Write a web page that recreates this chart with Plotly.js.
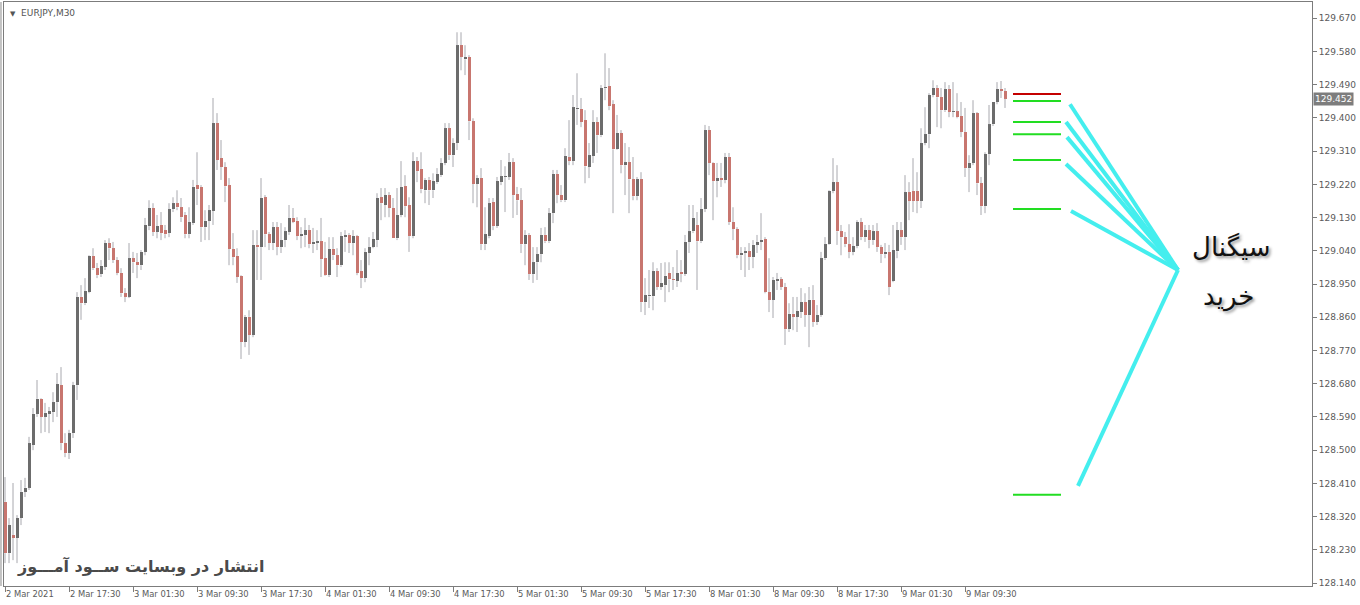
<!DOCTYPE html>
<html><head><meta charset="utf-8">
<script src="https://cdn.plot.ly/plotly-3.0.1.min.js"></script>
<style>html,body{margin:0;padding:0;background:#fff}#chart{width:1360px;height:605px}</style>
</head><body><div id="chart"></div>
<script>
const symbolLabel = 'EURJPY,M30';
const timeLabelIndex = [0,16,32,48,64,80,96,112,128,144,160,176,192,208,224,240];
const timeLabels = ['2 Mar 2021','2 Mar 17:30','3 Mar 01:30','3 Mar 09:30','3 Mar 17:30','4 Mar 01:30','4 Mar 09:30','4 Mar 17:30','5 Mar 01:30','5 Mar 09:30','5 Mar 17:30','8 Mar 01:30','8 Mar 09:30','8 Mar 17:30','9 Mar 01:30','9 Mar 09:30'];
const yTicks = [128.14,128.23,128.32,128.41,128.50,128.59,128.68,128.77,128.86,128.95,129.04,129.13,129.22,129.31,129.40,129.49,129.58,129.67];

const opens = [128.360,128.221,128.270,128.262,128.316,128.387,128.398,128.514,128.598,128.639,128.590,128.598,128.603,128.630,128.676,128.519,128.492,128.546,128.676,128.915,
128.898,128.928,129.026,128.993,128.977,128.996,129.061,129.047,129.015,128.980,128.925,128.915,129.020,129.009,129.001,129.037,129.107,129.156,129.091,129.110,
129.096,129.088,129.153,129.169,129.158,129.137,129.085,129.115,129.218,129.213,129.104,129.121,129.148,129.386,129.291,129.267,129.218,129.045,129.026,128.972,
128.793,128.861,128.812,129.056,129.050,129.185,129.085,129.061,129.104,129.050,129.069,129.091,129.129,129.121,129.080,129.083,129.096,129.058,129.061,129.066,
129.020,128.974,129.045,129.028,129.001,129.077,129.083,129.061,129.080,128.985,128.966,129.034,129.050,129.069,129.185,129.164,129.191,129.156,129.074,129.137,
129.215,129.164,129.080,129.283,129.261,129.204,129.232,129.204,129.226,129.245,129.278,129.372,129.299,129.332,129.597,129.559,129.565,129.391,129.221,129.237,
129.058,129.080,129.172,129.107,129.226,129.240,129.240,129.280,129.194,129.177,129.058,129.083,128.977,129.009,129.031,129.083,129.066,129.142,129.248,129.191,
129.177,129.294,129.283,129.424,129.424,129.394,129.267,129.297,129.389,129.353,129.481,129.486,129.437,129.315,129.359,129.272,129.280,129.234,129.188,129.234,
128.901,128.917,128.917,128.985,128.942,128.947,128.980,128.963,128.958,128.982,128.977,129.064,129.093,129.110,129.066,129.153,129.367,129.278,129.229,129.237,
129.232,129.294,129.118,129.099,129.028,129.034,129.039,129.023,129.056,129.064,129.072,128.928,128.907,128.958,128.963,128.942,128.828,128.869,128.861,128.874,
128.901,128.866,128.907,128.847,128.866,129.020,129.058,129.202,129.226,129.093,129.077,129.058,129.037,129.053,129.118,129.077,129.096,129.069,129.093,129.050,
129.031,129.037,128.958,129.039,129.096,129.077,129.199,129.202,129.202,129.175,129.332,129.356,129.462,129.481,129.456,129.421,129.478,129.416,129.418,129.405,
129.362,129.264,129.278,129.413,129.223,129.161,129.302,129.383,129.443,129.478,129.473];
const highs = [128.427,128.316,128.411,128.324,128.419,128.425,128.536,128.614,128.690,128.641,128.628,128.617,128.657,128.709,128.725,128.546,128.555,128.685,128.928,128.947,
128.966,129.028,129.047,129.007,129.015,129.069,129.074,129.064,129.023,128.993,128.939,129.061,129.037,129.034,129.042,129.129,129.177,129.169,129.137,129.145,
129.110,129.169,129.185,129.204,129.183,129.145,129.158,129.232,129.307,129.218,129.150,129.164,129.454,129.413,129.340,129.280,129.237,129.088,129.047,128.974,
128.866,128.879,129.096,129.096,129.237,129.191,129.091,129.118,129.118,129.115,129.104,129.164,129.156,129.131,129.104,129.129,129.110,129.102,129.096,129.129,
129.064,129.077,129.077,129.047,129.091,129.096,129.088,129.096,129.083,129.015,129.047,129.077,129.091,129.196,129.210,129.210,129.199,129.183,129.210,129.283,
129.245,129.185,129.307,129.294,129.307,129.237,129.240,129.250,129.264,129.291,129.386,129.386,129.345,129.632,129.632,129.597,129.570,129.399,129.245,129.264,
129.158,129.183,129.183,129.240,129.286,129.269,129.305,129.291,129.213,129.210,129.096,129.088,129.050,129.050,129.102,129.104,129.156,129.259,129.259,129.218,
129.318,129.394,129.462,129.521,129.454,129.421,129.332,129.421,129.402,129.489,129.575,129.535,129.448,129.408,129.367,129.332,129.321,129.294,129.240,129.253,
128.966,128.988,129.009,128.993,129.007,129.009,129.009,128.996,129.042,129.015,129.083,129.164,129.164,129.145,129.183,129.381,129.378,129.280,129.278,129.278,
129.305,129.305,129.158,129.104,129.050,129.050,129.061,129.069,129.083,129.142,129.077,129.020,128.969,128.980,128.969,128.953,128.898,128.915,128.915,128.939,
128.925,128.942,128.947,128.893,129.037,129.077,129.204,129.291,129.272,129.110,129.091,129.112,129.077,129.123,129.129,129.110,129.110,129.110,129.115,129.056,
129.061,129.056,129.110,129.118,129.118,129.245,129.226,129.291,129.253,129.372,129.429,129.467,129.502,129.489,129.481,129.497,129.489,129.497,129.467,129.443,
129.427,129.299,129.448,129.416,129.240,129.307,129.435,129.443,129.497,129.500,129.481];
const lows = [128.194,128.194,128.202,128.194,128.297,128.373,128.392,128.500,128.590,128.546,128.549,128.546,128.576,128.590,128.500,128.481,128.476,128.533,128.636,128.853,
128.893,128.925,128.988,128.966,128.969,128.988,129.015,129.007,128.974,128.915,128.901,128.912,128.980,128.966,128.988,129.028,129.096,129.080,129.074,129.069,
129.074,129.077,129.145,129.150,129.118,129.074,129.074,129.110,129.164,129.064,129.069,129.069,129.110,129.259,129.232,129.172,129.001,129.001,128.953,128.747,
128.779,128.758,128.806,128.961,128.961,129.050,129.042,129.042,129.028,129.034,129.050,129.083,129.115,129.069,129.047,129.050,129.047,129.034,129.042,128.969,
128.972,128.969,129.015,128.969,128.996,129.037,129.034,129.028,128.974,128.939,128.955,129.001,129.047,129.050,129.123,129.131,129.131,129.074,129.069,129.131,
129.131,129.037,129.074,129.226,129.196,129.169,129.164,129.183,129.221,129.240,129.272,129.286,129.267,129.313,129.529,129.516,129.340,129.169,129.158,129.042,
129.042,129.074,129.096,129.102,129.218,129.145,129.232,129.129,129.137,129.034,129.001,128.961,128.953,128.961,129.009,129.061,129.061,129.115,129.169,129.172,
129.172,129.272,129.272,129.381,129.375,129.223,129.237,129.278,129.305,129.348,129.448,129.421,129.142,129.313,129.250,129.191,129.142,129.177,129.177,128.874,
128.866,128.885,128.879,128.934,128.934,128.901,128.928,128.934,128.942,128.955,128.972,129.034,129.088,128.934,129.061,129.145,129.245,129.123,129.185,129.213,
129.223,129.110,129.069,129.020,128.988,128.969,128.988,128.993,129.034,129.042,128.925,128.874,128.858,128.934,128.934,128.785,128.820,128.825,128.820,128.858,
128.834,128.779,128.834,128.839,128.861,129.015,129.056,129.196,129.056,129.028,129.050,129.020,129.028,129.047,129.069,129.064,129.047,129.056,129.037,129.007,
129.020,128.920,128.955,129.020,129.056,129.042,129.123,129.145,129.142,129.156,129.326,129.318,129.456,129.375,129.372,129.416,129.402,129.402,129.399,129.348,
129.240,129.199,129.272,129.191,129.137,129.142,129.272,129.378,129.437,129.454,129.427];
const closes = [128.221,128.297,128.262,128.316,128.387,128.398,128.519,128.598,128.639,128.590,128.601,128.606,128.630,128.679,128.519,128.492,128.546,128.676,128.915,128.898,
128.931,129.026,128.993,128.974,128.999,129.061,129.047,129.015,128.980,128.925,128.915,129.020,129.009,129.001,129.037,129.110,129.156,129.091,129.107,129.088,
129.085,129.153,129.169,129.158,129.131,129.085,129.118,129.213,129.207,129.104,129.121,129.150,129.386,129.286,129.267,129.215,129.045,129.023,128.969,128.793,
128.861,128.812,129.056,129.050,129.183,129.085,129.061,129.104,129.050,129.069,129.093,129.129,129.118,129.080,129.085,129.096,129.058,129.064,129.066,129.018,
128.974,129.045,129.028,129.001,129.080,129.083,129.061,129.080,128.980,128.966,129.037,129.050,129.072,129.183,129.169,129.191,129.156,129.074,129.137,129.213,
129.161,129.080,129.283,129.256,129.207,129.232,129.204,129.229,129.248,129.278,129.372,129.299,129.332,129.597,129.565,129.565,129.391,129.221,129.237,129.058,
129.085,129.169,129.107,129.229,129.242,129.242,129.280,129.191,129.177,129.058,129.083,128.977,129.009,129.031,129.083,129.066,129.142,129.248,129.191,129.177,
129.297,129.283,129.429,129.427,129.389,129.269,129.299,129.389,129.353,129.481,129.483,129.432,129.315,129.359,129.272,129.280,129.234,129.188,129.234,128.901,
128.920,128.920,128.985,128.942,128.953,128.972,128.963,128.961,128.980,128.977,129.064,129.093,129.129,129.066,129.153,129.367,129.278,129.229,129.237,129.232,
129.294,129.118,129.099,129.028,129.034,129.039,129.023,129.056,129.064,129.069,128.928,128.907,128.961,128.963,128.942,128.828,128.869,128.861,128.877,128.901,
128.866,128.907,128.847,128.866,129.020,129.058,129.202,129.226,129.093,129.077,129.058,129.037,129.053,129.118,129.077,129.096,129.069,129.093,129.050,129.031,
129.037,128.942,129.042,129.096,129.077,129.199,129.175,129.175,129.175,129.332,129.356,129.462,129.481,129.456,129.421,129.478,129.416,129.418,129.402,129.362,
129.264,129.278,129.413,129.223,129.161,129.302,129.383,129.443,129.478,129.473,129.452];

const lastPrice = 129.452;
const entryLevel = 129.465;
const signalLevels = [129.446, 129.389, 129.356, 129.286, 129.153, 128.379];
const levelSpan = [252, 264];
const pointerStartIndex = [266.25, 265.25, 265.5, 265.25, 266.5, 268.25];
const pointerStartPrice = [129.437, 129.389, 129.348, 129.275, 129.148, 128.403];
const pointerHub = [293.25, 128.988];
const signalTitle = 'سیگنال';
const signalSubtitle = 'خرید';
const watermark = 'انتشار در وبسایت ســود آمـــوز';

const n = opens.length;
const minBody = 0.0026;
const up = {x:[], base:[], y:[]}, dn = {x:[], base:[], y:[]};
const wx = [], wy = [];
for (let i = 0; i < n; i++) {
  const o = opens[i], c = closes[i];
  const top = Math.max(o, c), bot = Math.min(o, c);
  let b = bot, h = top - bot;
  if (h < minBody) { b = (top + bot) / 2 - minBody / 2; h = minBody; }
  const t = c >= o ? up : dn;
  t.x.push(i); t.base.push(b); t.y.push(h);
  wx.push(i, i, null, i, i, null);
  wy.push(highs[i], b + h, null, b, lows[i], null);
}

const traces = [
  {type:'scatter', mode:'lines', x:wx, y:wy, line:{color:'#a8a8ae', width:1}, hoverinfo:'skip'},
  {type:'bar', x:up.x, y:up.y, base:up.base, width:0.75, marker:{color:'#6c6c6c', line:{width:0}}, hoverinfo:'skip'},
  {type:'bar', x:dn.x, y:dn.y, base:dn.base, width:0.75, marker:{color:'#c8766f', line:{width:0}}, hoverinfo:'skip'}
];
const gx = [], gy = [];
signalLevels.forEach(v => { gx.push(levelSpan[0], levelSpan[1], null); gy.push(v, v, null); });
traces.push({type:'scatter', mode:'lines', x:gx, y:gy, line:{color:'#22dd22', width:2}, hoverinfo:'skip'});
traces.push({type:'scatter', mode:'lines', x:levelSpan, y:[entryLevel, entryLevel], line:{color:'#c40000', width:2}, hoverinfo:'skip'});
const px = [], py = [];
pointerStartIndex.forEach((s, j) => { px.push(s, pointerHub[0], null); py.push(pointerStartPrice[j], pointerHub[1], null); });
traces.push({type:'scatter', mode:'lines', x:px, y:py, line:{color:'#44eeee', width:4}, hoverinfo:'skip'});

const axisColor = '#7c7c7c';
const layout = {
  width:1360, height:605,
  margin:{l:4, r:48, t:2, b:19, pad:0},
  paper_bgcolor:'#ffffff', plot_bgcolor:'#ffffff',
  showlegend:false, barmode:'overlay', bargap:0,
  xaxis:{range:[-0.25, 326.75], tickmode:'array', tickvals:timeLabelIndex, ticktext:timeLabels,
    ticks:'outside', ticklen:5, tickcolor:axisColor, ticklabelposition:'outside right',
    tickfont:{family:'DejaVu Sans', size:8.4, color:'#5a5a5a'},
    showgrid:false, zeroline:false, showline:true, linecolor:axisColor, linewidth:1, mirror:true, fixedrange:true},
  yaxis:{side:'right', range:[128.132, 129.714], tickmode:'array', tickvals:yTicks, tickformat:'.3f',
    ticks:'outside', ticklen:4, tickcolor:axisColor,
    tickfont:{family:'DejaVu Sans', size:9, color:'#5a5a5a'},
    showgrid:false, zeroline:false, showline:true, linecolor:axisColor, linewidth:1, mirror:true, fixedrange:true},
  shapes:[
    {type:'line', xref:'paper', yref:'paper', x0:-0.0023, x1:-0.0023, y0:0, y1:1, line:{color:'#8a8a8a', width:1}}
  ],
  annotations:[
    {xref:'paper', yref:'paper', x:0.0031, y:0.981, xanchor:'left', yanchor:'middle', showarrow:false,
     text:'<span style="font-size:7px">▼</span>  ' + symbolLabel, font:{family:'DejaVu Sans', size:9, color:'#555'}},
    {xref:'paper', yref:'y', x:1, y:lastPrice, xanchor:'left', yanchor:'middle', xshift:1, showarrow:false,
     text:lastPrice.toFixed(3), bgcolor:'#7d7d7d', borderpad:1, font:{family:'DejaVu Sans', size:9, color:'#ffffff'}},
    {xref:'paper', yref:'paper', x:0.9388, y:0.5805, xanchor:'center', yanchor:'middle', showarrow:false,
     text:signalTitle, font:{family:'DejaVu Sans', size:26, color:'#111', shadow:'2px 2px 3px #9a9a9a'}},
    {xref:'paper', yref:'paper', x:0.9358, y:0.4949, xanchor:'center', yanchor:'middle', showarrow:false,
     text:signalSubtitle, font:{family:'DejaVu Sans', size:26, color:'#111', shadow:'2px 2px 3px #9a9a9a'}},
    {xref:'paper', yref:'paper', x:0.0084, y:0.034, xanchor:'left', yanchor:'middle', showarrow:false,
     text:'<b>' + watermark + '</b>', font:{family:'DejaVu Sans', size:16, color:'#4a4a4a'}}
  ]
};
Plotly.newPlot('chart', traces, layout, {displayModeBar:false, staticPlot:true});
</script>
</body></html>
